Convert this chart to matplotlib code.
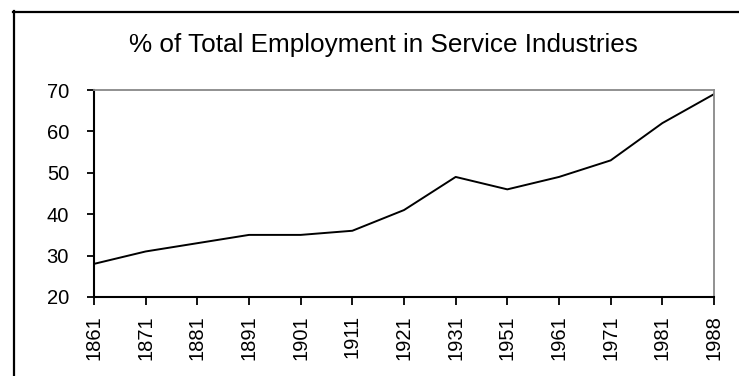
import matplotlib
matplotlib.use("Agg")
import matplotlib.pyplot as plt
from matplotlib.lines import Line2D

YEARS = ["1861", "1871", "1881", "1891", "1901", "1911", "1921",
         "1931", "1951", "1961", "1971", "1981", "1988"]
SERVICE_PCT = [28, 31, 33, 35, 35, 36, 41, 49, 46, 49, 53, 62, 69]
Y_TICKS = [20, 30, 40, 50, 60, 70]

plt.rcParams["font.family"] = ["Liberation Sans", "DejaVu Sans"]

W, H = 739, 376
fig = plt.figure(figsize=(W / 100, H / 100), dpi=100)
ax = fig.add_axes([94 / W, 1 - 297 / H, (714 - 94) / W, (297 - 90) / H])

x = list(range(len(YEARS)))
ax.plot(x, SERVICE_PCT, color="black", lw=1.4)

ax.set_xlim(0, len(YEARS) - 1)
ax.set_ylim(20, 70)
ax.set_xticks(x, YEARS, rotation=90)
ax.set_yticks(Y_TICKS)
ax.tick_params(axis="y", direction="out", length=5, width=1.3, pad=13, labelsize=14.5)
ax.tick_params(axis="x", direction="out", length=6, width=1.3, pad=7, labelsize=14.5)

for side in ("left", "bottom"):
    ax.spines[side].set_color("black")
    ax.spines[side].set_linewidth(1.5)
for side in ("top", "right"):
    ax.spines[side].set_color("#888888")
    ax.spines[side].set_linewidth(1.3)

# outer chart border (only left/top visible in the crop)
fig.add_artist(Line2D([13.5 / W, 13.5 / W], [0, 1 - 11 / H], color="black", lw=1.6))
fig.add_artist(Line2D([13 / W, 1], [1 - 11.5 / H, 1 - 11.5 / H], color="black", lw=1.6))

fig.text(0.519, 1 - 45 / H, "% of Total Employment in Service Industries",
         ha="center", va="center", fontsize=18.8)

fig.savefig("out.png", dpi=100)
